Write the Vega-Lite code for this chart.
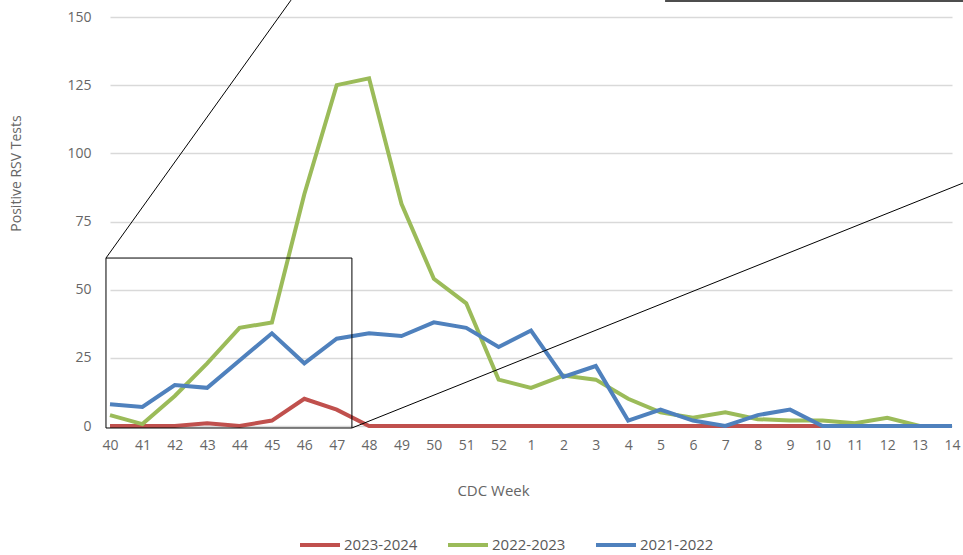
{
  "$schema": "https://vega.github.io/schema/vega-lite/v6.json",
  "width": 842,
  "height": 409,
  "autosize": {"type": "none"},
  "padding": {"left": 110, "top": 17, "right": 11, "bottom": 129},
  "background": "white",
  "config": {
    "view": {"stroke": null},
    "font": "Open Sans",
    "axis": {"labelFont": "Open Sans", "titleFont": "Open Sans", "labelColor": "#666666", "titleColor": "#666666", "titleFontWeight": "normal"},
    "legend": {"labelFont": "Open Sans", "labelColor": "#595959"}
  },
  "resolve": {"scale": {"x": "independent"}, "axis": {"x": "independent"}},
  "datasets": {
    "rsv": [
      {"season": "2023-2024", "week": "40", "tests": 0},
      {"season": "2023-2024", "week": "41", "tests": 0},
      {"season": "2023-2024", "week": "42", "tests": 0},
      {"season": "2023-2024", "week": "43", "tests": 1},
      {"season": "2023-2024", "week": "44", "tests": 0},
      {"season": "2023-2024", "week": "45", "tests": 2},
      {"season": "2023-2024", "week": "46", "tests": 10},
      {"season": "2023-2024", "week": "47", "tests": 6},
      {"season": "2023-2024", "week": "48", "tests": 0},
      {"season": "2023-2024", "week": "49", "tests": 0},
      {"season": "2023-2024", "week": "50", "tests": 0},
      {"season": "2023-2024", "week": "51", "tests": 0},
      {"season": "2023-2024", "week": "52", "tests": 0},
      {"season": "2023-2024", "week": "1", "tests": 0},
      {"season": "2023-2024", "week": "2", "tests": 0},
      {"season": "2023-2024", "week": "3", "tests": 0},
      {"season": "2023-2024", "week": "4", "tests": 0},
      {"season": "2023-2024", "week": "5", "tests": 0},
      {"season": "2023-2024", "week": "6", "tests": 0},
      {"season": "2023-2024", "week": "7", "tests": 0},
      {"season": "2023-2024", "week": "8", "tests": 0},
      {"season": "2023-2024", "week": "9", "tests": 0},
      {"season": "2023-2024", "week": "10", "tests": 0},
      {"season": "2022-2023", "week": "40", "tests": 4},
      {"season": "2022-2023", "week": "41", "tests": 0.7},
      {"season": "2022-2023", "week": "42", "tests": 11},
      {"season": "2022-2023", "week": "43", "tests": 23},
      {"season": "2022-2023", "week": "44", "tests": 36},
      {"season": "2022-2023", "week": "45", "tests": 38},
      {"season": "2022-2023", "week": "46", "tests": 85},
      {"season": "2022-2023", "week": "47", "tests": 125},
      {"season": "2022-2023", "week": "48", "tests": 127.5},
      {"season": "2022-2023", "week": "49", "tests": 81.5},
      {"season": "2022-2023", "week": "50", "tests": 54},
      {"season": "2022-2023", "week": "51", "tests": 45},
      {"season": "2022-2023", "week": "52", "tests": 17},
      {"season": "2022-2023", "week": "1", "tests": 14},
      {"season": "2022-2023", "week": "2", "tests": 18.5},
      {"season": "2022-2023", "week": "3", "tests": 17},
      {"season": "2022-2023", "week": "4", "tests": 10},
      {"season": "2022-2023", "week": "5", "tests": 5},
      {"season": "2022-2023", "week": "6", "tests": 3},
      {"season": "2022-2023", "week": "7", "tests": 5},
      {"season": "2022-2023", "week": "8", "tests": 2.5},
      {"season": "2022-2023", "week": "9", "tests": 2},
      {"season": "2022-2023", "week": "10", "tests": 2},
      {"season": "2022-2023", "week": "11", "tests": 1},
      {"season": "2022-2023", "week": "12", "tests": 3},
      {"season": "2022-2023", "week": "13", "tests": 0},
      {"season": "2022-2023", "week": "14", "tests": 0},
      {"season": "2021-2022", "week": "40", "tests": 8},
      {"season": "2021-2022", "week": "41", "tests": 7},
      {"season": "2021-2022", "week": "42", "tests": 15},
      {"season": "2021-2022", "week": "43", "tests": 14},
      {"season": "2021-2022", "week": "44", "tests": 24},
      {"season": "2021-2022", "week": "45", "tests": 34},
      {"season": "2021-2022", "week": "46", "tests": 23},
      {"season": "2021-2022", "week": "47", "tests": 32},
      {"season": "2021-2022", "week": "48", "tests": 34},
      {"season": "2021-2022", "week": "49", "tests": 33},
      {"season": "2021-2022", "week": "50", "tests": 38},
      {"season": "2021-2022", "week": "51", "tests": 36},
      {"season": "2021-2022", "week": "52", "tests": 29},
      {"season": "2021-2022", "week": "1", "tests": 35},
      {"season": "2021-2022", "week": "2", "tests": 18},
      {"season": "2021-2022", "week": "3", "tests": 22},
      {"season": "2021-2022", "week": "4", "tests": 2},
      {"season": "2021-2022", "week": "5", "tests": 6},
      {"season": "2021-2022", "week": "6", "tests": 2},
      {"season": "2021-2022", "week": "7", "tests": 0},
      {"season": "2021-2022", "week": "8", "tests": 4},
      {"season": "2021-2022", "week": "9", "tests": 6},
      {"season": "2021-2022", "week": "10", "tests": 0},
      {"season": "2021-2022", "week": "11", "tests": 0},
      {"season": "2021-2022", "week": "12", "tests": 0},
      {"season": "2021-2022", "week": "13", "tests": 0},
      {"season": "2021-2022", "week": "14", "tests": 0}
    ],
    "zoombox": [{"x1": -0.124, "x2": 7.47, "y1": -0.73, "y2": 61.6}],
    "zoomlines": [
      {"x1": -0.124, "y1": 61.6, "x2": 5.59, "y2": 156.2},
      {"x1": 7.47, "y1": -0.73, "x2": 26.34, "y2": 89.1}
    ],
    "insetedge": [{"x1": 17.14, "x2": 26.34, "y1": 155.9}]
  },
  "layer": [
    {
      "data": {"name": "rsv"},
      "mark": {"type": "line", "strokeWidth": 4, "clip": false},
      "encoding": {
        "x": {
          "field": "week", "type": "ordinal",
          "sort": ["40","41","42","43","44","45","46","47","48","49","50","51","52","1","2","3","4","5","6","7","8","9","10","11","12","13","14"],
          "scale": {"type": "point", "padding": 0},
          "axis": {
            "grid": false, "domain": false, "ticks": false,
            "labelFontSize": 14, "labelPadding": 12, "labelAngle": 0, "labelOverlap": false,
            "title": "CDC Week", "titleFontSize": 15,
            "titleX": 383, "titleY": 64, "titleBaseline": "middle", "titleAlign": "center"
          }
        },
        "y": {
          "field": "tests", "type": "quantitative",
          "scale": {"domain": [0, 150], "nice": false},
          "axis": {
            "values": [0, 25, 50, 75, 100, 125, 150],
            "grid": true, "gridColor": "#d9d9d9", "gridWidth": 1.5,
            "domain": false, "ticks": false,
            "labelFontSize": 14, "labelPadding": 19,
            "title": "Positive RSV Tests", "titleFontSize": 14,
            "titleAngle": -90, "titleX": -94, "titleY": 156, "titleAlign": "center", "titleBaseline": "middle"
          }
        },
        "color": {
          "field": "season", "type": "nominal",
          "scale": {"domain": ["2023-2024", "2022-2023", "2021-2022"], "range": ["#c0504d", "#9bbb59", "#4f81bd"]},
          "legend": {
            "title": null, "orient": "none", "direction": "horizontal",
            "legendX": 188, "legendY": 506,
            "symbolType": "stroke", "symbolSize": 1600, "symbolStrokeWidth": 4,
            "labelFontSize": 15, "labelOffset": 2, "columnPadding": 22
          }
        }
      }
    },
    {
      "data": {"name": "zoombox"},
      "mark": {"type": "rect", "fill": null, "fillOpacity": 0, "stroke": "#000000", "strokeWidth": 1, "clip": false},
      "encoding": {
        "x": {"field": "x1", "type": "quantitative", "scale": {"domain": [0, 26], "nice": false, "zero": false}, "axis": null},
        "x2": {"field": "x2"},
        "y": {"field": "y1", "type": "quantitative"},
        "y2": {"field": "y2"}
      }
    },
    {
      "data": {"name": "zoomlines"},
      "mark": {"type": "rule", "color": "#000000", "strokeWidth": 1, "clip": false},
      "encoding": {
        "x": {"field": "x1", "type": "quantitative", "scale": {"domain": [0, 26], "nice": false, "zero": false}, "axis": null},
        "x2": {"field": "x2"},
        "y": {"field": "y1", "type": "quantitative"},
        "y2": {"field": "y2"}
      }
    },
    {
      "data": {"name": "insetedge"},
      "mark": {"type": "rule", "color": "#4d4d4d", "strokeWidth": 2, "clip": false},
      "encoding": {
        "x": {"field": "x1", "type": "quantitative", "scale": {"domain": [0, 26], "nice": false, "zero": false}, "axis": null},
        "x2": {"field": "x2"},
        "y": {"field": "y1", "type": "quantitative"}
      }
    }
  ]
}
